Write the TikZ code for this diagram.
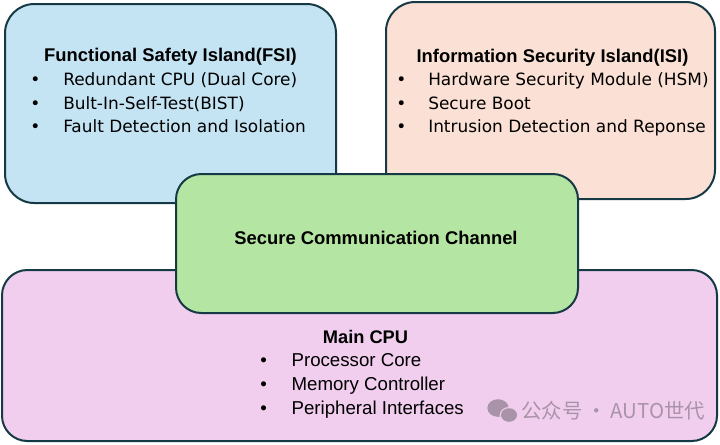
\documentclass[tikz,border=0pt]{standalone}
\usepackage{fontspec}
\setmainfont{DejaVu Sans}
\newfontfamily\cpufont{Liberation Sans}
\newfontfamily\cjkfont{Noto Sans CJK SC}
\usetikzlibrary{positioning,shapes.geometric}
\definecolor{islline}{HTML}{163A45}
\definecolor{fsiblue}{HTML}{C4E4F4}
\definecolor{isipeach}{HTML}{FBE1D5}
\definecolor{scgreen}{HTML}{B5E5A2}
\definecolor{cpupink}{HTML}{F1CEEE}
\definecolor{wmgray}{HTML}{A993A8}
\newcommand{\bul}[1]{\makebox[#1][l]{•}}

\begin{document}
\begin{tikzpicture}[
    x=0.75pt, y=-0.75pt,
    island/.style={rectangle, rounded corners=22pt, draw=islline, line width=1.5pt},
    head/.style={anchor=base, inner sep=0pt, font=\cpufont\fontsize{13.8}{16}\selectfont\bfseries},
    item/.style={anchor=base west, inner sep=0pt, font=\fontsize{12.7}{15}\selectfont},
    cpuhead/.style={anchor=base, inner sep=0pt, font=\cpufont\fontsize{13.7}{16}\selectfont\bfseries},
    cpuitem/.style={anchor=base west, inner sep=0pt, font=\cpufont\fontsize{14}{17}\selectfont}
  ]
    \useasboundingbox (0,0) rectangle (720,444);
    % the two islands
    \node[island, fill=fsiblue, minimum width=248.25pt, minimum height=149.25pt] (fsi) at (170.5,103.5) {};
    \node[island, fill=isipeach, minimum width=246.75pt, minimum height=147.75pt] (isi) at (550.5,100.5) {};
    % main cpu and the channel on top
    \node[island, rounded corners=19pt, fill=cpupink, minimum width=536.25pt, minimum height=128.25pt] (cpu) at (359.5,355.5) {};
    \node[island, rounded corners=19pt, fill=scgreen, minimum width=301.5pt, minimum height=104.25pt] (scc) at (377,243.5) {};

    \node[head] (fsihead) at (170.5,61.5) {Functional Safety Island(FSI)};
    \node[item] (fsi1) at (30,85.5)  {\bul{24.75pt}Redundant CPU (Dual Core)};
    \node[item] (fsi2) at (30,109)   {\bul{24.75pt}Bult-In-Self-Test(BIST)};
    \node[item] (fsi3) at (30,132.5) {\bul{24.75pt}Fault Detection and Isolation};

    \node[head] (isihead) at (552.5,62) {Information Security Island(ISI)};
    \node[item] (isi1) at (396,85.5)  {\bul{24pt}Hardware Security Module (HSM)};
    \node[item] (isi2) at (396,109)   {\bul{24pt}Secure Boot};
    \node[item] (isi3) at (396,132.5) {\bul{24pt}Intrusion Detection and Reponse};

    \node[head, font=\cpufont\fontsize{13.8}{16}\selectfont\bfseries] (scclabel) at (376,244) {Secure Communication Channel};

    \node[cpuhead] (cpuhead) at (365.5,343) {Main CPU};
    \node[cpuitem] (cpu1) at (260,366.5) {\bul{23.5pt}Processor Core};
    \node[cpuitem] (cpu2) at (260,390.5) {\bul{23.5pt}Memory Controller};
    \node[cpuitem] (cpu3) at (260,414)   {\bul{23.5pt}Peripheral Interfaces};

    % watermark
    \fill[wmgray] (498,408) ellipse (8pt and 6.6pt);
    \fill[cpupink] (509,415) ellipse (7pt and 6pt);
    \fill[wmgray] (509,415) ellipse (6pt and 5.1pt);
    \node[anchor=base west, inner sep=0pt, text=wmgray, font=\cjkfont\fontsize{15.3}{18}\selectfont] (wm) at (521,418) {公众号\hspace{3pt}·\hspace{3pt}AUTO世代};
\end{tikzpicture}
\end{document}
